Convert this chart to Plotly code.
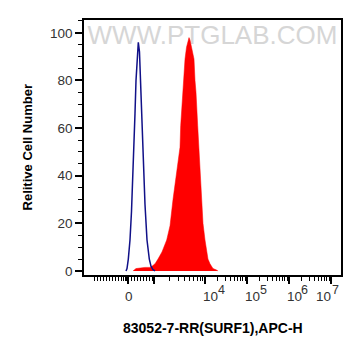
import math
import plotly.graph_objects as go

# ---------------- data (x in display units of the biexponential axis; 4 = 10^4) ----------------
blue_x = [2.119, 2.143, 2.174, 2.214, 2.250, 2.286, 2.310, 2.333, 2.357, 2.381, 2.412,
          2.440, 2.464, 2.488, 2.517, 2.543, 2.571, 2.619, 2.674, 2.714, 2.762, 2.810]
blue_y = [0, 1, 5, 13, 25, 40, 52, 66, 80, 90, 96,
          92, 80, 66, 52, 40, 28, 13, 5, 2, 0.5, 0]

red_x = [2.286, 2.357, 2.571, 2.690, 2.738, 2.810, 2.881, 2.976, 3.088, 3.167, 3.238,
         3.310, 3.357, 3.405, 3.421, 3.452, 3.469, 3.500, 3.524, 3.560, 3.595, 3.619,
         3.643, 3.667, 3.690, 3.738, 3.762, 3.786, 3.826, 3.857, 3.881, 3.921, 3.952,
         4.000, 4.048, 4.071, 4.119, 4.190, 4.262, 4.310]
red_y = [0, 1, 1.5, 1.5, 2, 3, 5, 8, 13, 19, 30,
         40, 46, 52, 61, 70, 75, 83, 89, 94, 97, 98,
         97, 95, 93, 89, 80, 75, 61, 52, 40, 30, 20,
         13, 7, 5, 3, 1, 0.5, 0]

x_tick_vals = [2.167, 4, 5, 6, 7]
x_tick_base = ["0", "10", "10", "10", "10"]
x_tick_exp = ["", "4", "5", "6", "7"]
y_tick_vals = [0, 20, 40, 60, 80, 100]
y_tick_text = ["0", "20", "40", "60", "80", "100"]

x_title = "83052-7-RR(SURF1),APC-H"
y_title = "Relitive Cell Number"
watermark = "WWW.PTGLAB.COM"

# ---------------- axis tick geometry ----------------
def px2d(px):
    return 4 + (px - 205) / 42.0

major_ticks = [2.167, px2d(154)] + [4, 5, 6, 7]
minor_ticks = [px2d(p) for p in [94, 97, 100, 103, 106, 109, 112, 115, 118, 121, 123, 125, 126.5]]
minor_ticks += [px2d(p) for p in [131, 134, 137, 140, 143, 146, 149, 152]]
d3 = px2d(154)
minor_ticks += [d3 + (4 - d3) * math.log10(m) for m in range(2, 10)]
for k in (4, 5, 6):
    minor_ticks += [k + math.log10(m) for m in range(2, 10)]

base_shift = [0.5, 5, 5.5, 5, -7.5]
exp_shift = [0, 16.5, 16.5, 15.5, 4]

FONT = "Liberation Sans, Arial, sans-serif"
TICKCOL = "#333333"

fig = go.Figure()
fig.add_trace(go.Scatter(x=red_x, y=red_y, mode="lines", fill="toself",
                         fillcolor="#ff0000", line=dict(color="#ff0000", width=0.5),
                         hoverinfo="skip", showlegend=False))
fig.add_trace(go.Scatter(x=blue_x, y=blue_y, mode="lines",
                         line=dict(color="#101088", width=1.5),
                         hoverinfo="skip", showlegend=False))

fig.update_layout(
    width=361, height=356,
    margin=dict(l=84, r=20, t=20, b=81),
    paper_bgcolor="white", plot_bgcolor="white",
    font=dict(family=FONT, size=13.5, color=TICKCOL),
    showlegend=False,
)
fig.update_xaxes(
    range=[1.119, 7.238], showgrid=False, zeroline=False,
    showline=True, mirror=True, linecolor="black", linewidth=1.5,
    ticks="outside", ticklen=7, tickwidth=1.5, tickcolor="black",
    tickmode="array", tickvals=major_ticks, ticktext=[""] * len(major_ticks),
    minor=dict(tickmode="array", tickvals=minor_ticks, ticks="outside",
               ticklen=4, tickwidth=1, tickcolor="black", showgrid=False),
)
fig.update_yaxes(
    range=[-1.7, 105.4], showgrid=False, zeroline=False,
    showline=True, mirror=True, linecolor="black", linewidth=1.5,
    ticks="outside", ticklen=7, tickwidth=1.5, tickcolor="black",
    tickmode="array", tickvals=y_tick_vals, ticktext=y_tick_text,
    tickfont=dict(family=FONT, size=13.5, color=TICKCOL),
    minor=dict(dtick=5, ticks="outside", ticklen=4, tickwidth=1,
               tickcolor="black", showgrid=False),
)

# x tick labels: base number and exponent drawn separately
base_y = -(296.5 - 275) / 255.0
exp_y = -(289.5 - 275) / 255.0
for v, b, e, s1, s2 in zip(x_tick_vals, x_tick_base, x_tick_exp, base_shift, exp_shift):
    fig.add_annotation(x=v, y=base_y, xref="x", yref="paper", text=b, showarrow=False,
                       xanchor="center", yanchor="middle", xshift=s1,
                       font=dict(family=FONT, size=13.5, color=TICKCOL))
    if e:
        fig.add_annotation(x=v, y=exp_y, xref="x", yref="paper", text=e, showarrow=False,
                           xanchor="center", yanchor="middle", xshift=s2,
                           font=dict(family=FONT, size=12.5, color=TICKCOL))

fig.add_annotation(x=0.5, y=-0.208, xref="paper", yref="paper", text=x_title,
                   showarrow=False, xanchor="center", yanchor="middle",
                   font=dict(family=FONT, size=14, color="black", weight="bold"))
fig.add_annotation(x=-0.218, y=0.5, xref="paper", yref="paper", text=y_title,
                   showarrow=False, textangle=-90, xanchor="center", yanchor="middle",
                   font=dict(family=FONT, size=13, color="black", weight="bold"))

fig.add_shape(type="rect", xref="paper", yref="paper", x0=0.01, x1=0.99, y0=0.9, y1=1.0,
              line=dict(width=0), fillcolor="rgba(0,0,0,0)", layer="below",
              label=dict(text=watermark, textposition="middle center",
                         font=dict(family=FONT, size=26, color="#d6d6d6")))

fig.write_html("out.html", config={"displayModeBar": False},
               post_script="document.body.style.margin='0';document.body.style.overflow='hidden';")
